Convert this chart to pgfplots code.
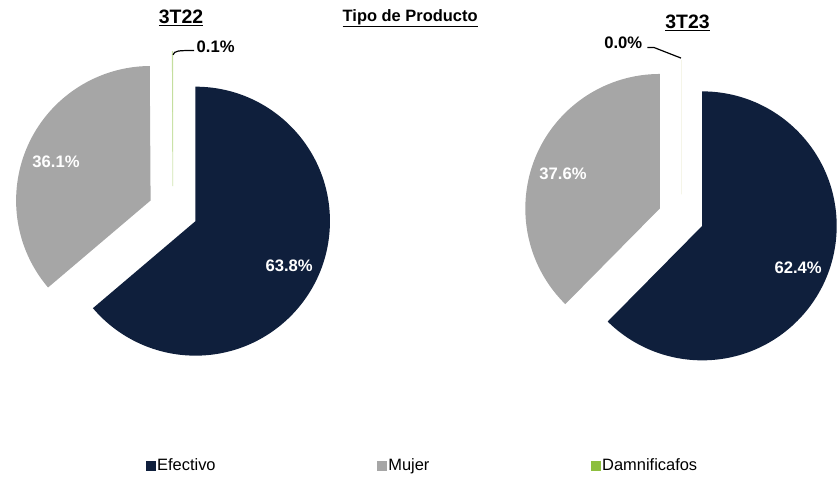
\documentclass[border=0pt]{standalone}
\usepackage{pgfplots}
\pgfplotsset{compat=1.18}
\usepackage{pgfplotstable}
\usepackage{fontspec}
\setmainfont{Liberation Sans}
\definecolor{efectivo}{HTML}{0F1F3C}
\definecolor{mujer}{HTML}{A6A6A6}
\definecolor{damnif}{HTML}{8DBF3F}
\definecolor{damline}{HTML}{C4DE9E}
\definecolor{damline2}{HTML}{F0F0DC}

\pgfplotstableread{
name v22 v23
Efectivo 63.8 62.4
Mujer 36.1 37.6
Damnificafos 0.1 0.0
}\piedata

\newcommand\getval[3]{\pgfplotstablegetelem{#1}{#2}\of\piedata\let#3\pgfplotsretval}
\getval{0}{v22}\EfA \getval{1}{v22}\MuA \getval{2}{v22}\DaA
\getval{0}{v23}\EfB \getval{1}{v23}\MuB \getval{2}{v23}\DaB

% cx cy d r start val style
\newcommand\drawslice[7]{%
 \pgfmathsetmacro\aA{90-3.6*(#5)}%
 \pgfmathsetmacro\aB{90-3.6*((#5)+(#6))}%
 \pgfmathsetmacro\aM{(\aA+\aB)/2}%
 \pgfmathsetmacro\ox{#1+#3*cos(\aM)}%
 \pgfmathsetmacro\oy{#2+#3*sin(\aM)}%
 \edef\tmp{\noexpand\path[#7] (axis cs:\ox,\oy) -- ++(\aA:#4pt) arc[start angle=\aA, end angle=\aB, radius=#4pt] -- cycle;}%
 \tmp}

\newcommand\lab{\fontsize{16.7}{19}\selectfont\bfseries}
\begin{document}
\begin{tikzpicture}
\begin{axis}[
  width=839pt, height=478pt, scale only axis,
  xmin=0, xmax=839, ymin=0, ymax=478,
  hide axis, clip=false,
  legend columns=3,
  legend cell align=left,
  legend style={at={(0.1704,0.023)}, anchor=west, draw=none, fill=none,
    inner sep=0pt, font=\fontsize{16.5}{19}\selectfont,
    /tikz/every even column/.append style={column sep=160pt}},
]
\path (axis cs:0,0) (axis cs:839,478);
% left pie (3T22)
\pgfmathsetmacro\sMuA{\EfA}
\pgfmathsetmacro\sDaA{\EfA+\MuA}
\drawslice{170.5}{266.4}{24.8}{135}{0}{\EfA}{fill=efectivo}
\drawslice{170.5}{266.4}{24.8}{135}{\sMuA}{\MuA}{fill=mujer}
\drawslice{170.5}{266.4}{24.8}{135}{\sDaA}{\DaA}{fill=damnif, draw=damline, line width=0.5pt}
% right pie (3T23)
\pgfmathsetmacro\sMuB{\EfB}
\pgfmathsetmacro\sDaB{\EfB+\MuB}
\drawslice{680.4}{260}{23}{135}{0}{\EfB}{fill=efectivo}
\drawslice{680.4}{260}{23}{135}{\sMuB}{\MuB}{fill=mujer}
\drawslice{680.4}{260}{23}{135}{\sDaB}{\DaB}{draw=damline2, line width=0.5pt}

% titles
\node[anchor=base] at (axis cs:178.5,454) {\fontsize{19.5}{22}\selectfont\bfseries\underline{3T22}};
\node[anchor=base] at (axis cs:408.5,456.3) {\fontsize{16.5}{19}\selectfont\bfseries\underline{Tipo de Producto}};
\node[anchor=base] at (axis cs:687,449.7) {\fontsize{19.5}{22}\selectfont\bfseries\underline{3T23}};

% data labels
\node[anchor=base, text=white] at (axis cs:53,310.3) {\lab 36.1\%};
\node[anchor=base, text=white] at (axis cs:287,205.7) {\lab 63.8\%};
\node[anchor=base west, inner sep=0pt] at (axis cs:194,425.3) {\lab 0.1\%};
\draw[black, line width=1.2pt] (axis cs:170.5,423) .. controls (axis cs:172,427) and (axis cs:175,427.3) .. (axis cs:191.7,427.3);
\node[anchor=base, text=white] at (axis cs:562,298) {\lab 37.6\%};
\node[anchor=base, text=white] at (axis cs:798,203) {\lab 62.4\%};
\node[anchor=base east, inner sep=0pt] at (axis cs:641.7,429) {\lab 0.0\%};
\draw[black, line width=1.2pt] (axis cs:680.4,419.7) -- (axis cs:653.3,430.3) -- (axis cs:646.7,430.3);

\addlegendimage{legend image code/.code={\fill[efectivo] (0pt,-4.5pt) rectangle (9pt,4.5pt);}}
\addlegendentry{Efectivo}
\addlegendimage{legend image code/.code={\fill[mujer] (0pt,-4.5pt) rectangle (9pt,4.5pt);}}
\addlegendentry{Mujer}
\addlegendimage{legend image code/.code={\fill[damnif] (0pt,-4.5pt) rectangle (9pt,4.5pt);}}
\addlegendentry{Damnificafos}
\end{axis}
\end{tikzpicture}
\end{document}
